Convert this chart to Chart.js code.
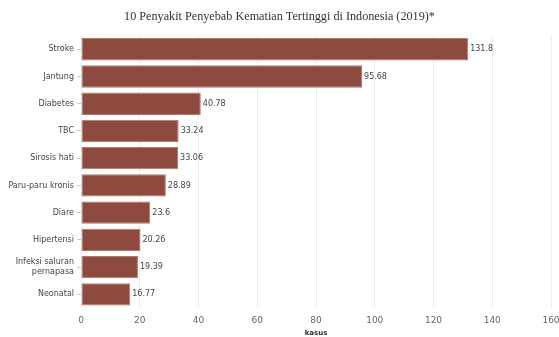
<!DOCTYPE html>
<html>
<head>
<meta charset="utf-8">
<script src="https://cdn.jsdelivr.net/npm/chart.js@4/dist/chart.umd.min.js"></script>
<style>
  html, body { margin: 0; padding: 0; background: #fff; }
  #wrap { width: 559px; height: 337px; position: relative; }
</style>
</head>
<body>
<div id="wrap"><canvas id="chart"></canvas></div>
<script>
// Data
const penyakit = ['Stroke', 'Jantung', 'Diabetes', 'TBC', 'Sirosis hati', 'Paru-paru kronis',
  'Diare', 'Hipertensi', ['Infeksi saluran', 'pernapasa'], 'Neonatal'];
const kasus = [131.8, 95.68, 40.78, 33.24, 33.06, 28.89, 23.6, 20.26, 19.39, 16.77];
const xTicks = [0, 20, 40, 60, 80, 100, 120, 140, 160];

// simple value labels at the end of each bar
const barLabels = {
    id: 'barLabels',
    afterDatasetsDraw(chart) {
        const ctx = chart.ctx;
        const meta = chart.getDatasetMeta(0);
        ctx.save();
        ctx.font = '8px "DejaVu Sans"';
        ctx.fillStyle = '#444';
        ctx.textBaseline = 'middle';
        meta.data.forEach((bar, i) => {
            ctx.fillText(String(kasus[i]), bar.x + 2, bar.y);
        });
        ctx.restore();
    }
};

const ctx = document.getElementById('chart').getContext('2d');
new Chart(ctx, {
    type: 'bar',
    data: {
        labels: penyakit,
        datasets: [{
            data: kasus,
            backgroundColor: '#8e4a3f',
            borderColor: '#b07a70',
            borderWidth: 1,
            borderSkipped: false,
            barPercentage: 0.82,
            categoryPercentage: 1
        }]
    },
    options: {
        indexAxis: 'y',
        responsive: true,
        maintainAspectRatio: false,
        animation: false,
        layout: { padding: 0 },
        plugins: {
            legend: { display: false },
            tooltip: { enabled: false },
            title: {
                display: true,
                text: '10 Penyakit Penyebab Kematian Tertinggi di Indonesia (2019)*',
                font: { family: '"Liberation Serif"', size: 12.2, weight: 'normal' },
                color: '#333',
                padding: { top: 9, bottom: 12 }
            }
        },
        scales: {
            x: {
                min: 0,
                max: 160,
                afterBuildTicks: axis => { axis.ticks = xTicks.map(v => ({ value: v })); },
                afterFit: axis => {
                    axis.height = 29;
                    axis.paddingRight = 8;
                },
                grid: { color: '#ececec', drawTicks: false },
                border: { display: false },
                ticks: {
                    color: '#666',
                    font: { family: '"DejaVu Sans"', size: 9 },
                    padding: 7
                },
                title: {
                    display: true,
                    text: 'kasus',
                    color: '#333',
                    font: { family: '"DejaVu Sans"', size: 7, weight: 'bold' },
                    padding: { top: 0, bottom: 0 }
                }
            },
            y: {
                afterFit: axis => { axis.width = 81; },
                grid: {
                    display: true,
                    drawOnChartArea: false,
                    offset: false,
                    drawTicks: true,
                    tickLength: 4,
                    tickColor: '#ccc'
                },
                border: { display: false },
                ticks: {
                    color: '#444',
                    font: { family: '"DejaVu Sans"', size: 8 },
                    padding: 3
                }
            }
        }
    },
    plugins: [barLabels]
});
</script>
</body>
</html>
